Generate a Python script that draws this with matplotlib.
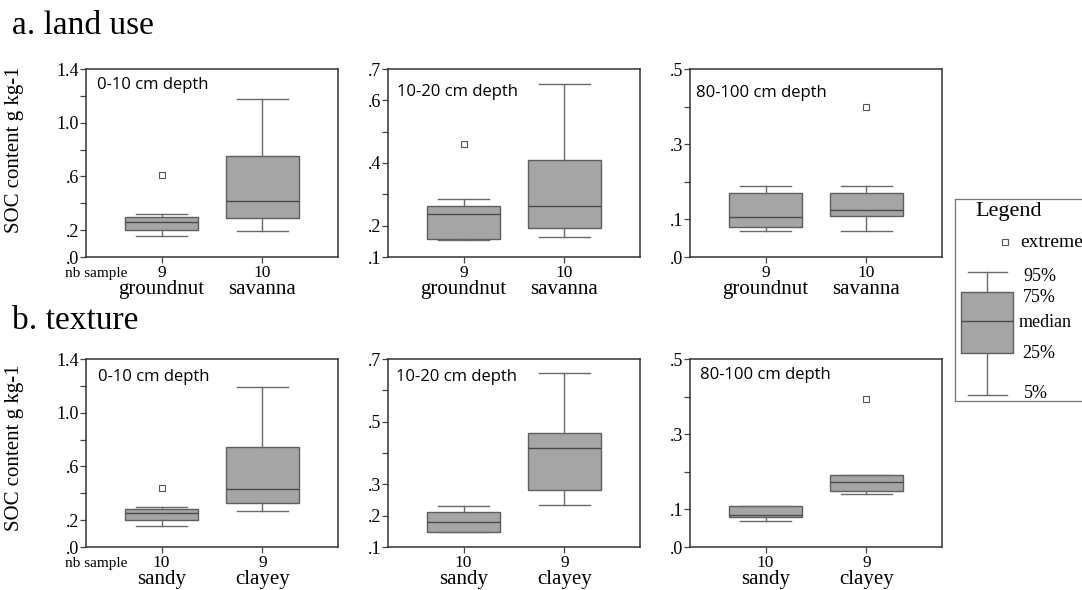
import matplotlib.pyplot as plt
from matplotlib.transforms import blended_transform_factory

plt.rcParams['font.family'] = ['Liberation Serif', 'DejaVu Serif']

depths = ['0-10 cm depth', '10-20 cm depth', '80-100 cm depth']
row_titles = ['a. land use', 'b. texture']
land_use = ['groundnut', 'savanna']
texture = ['sandy', 'clayey']
land_use_n = [9, 10]
texture_n = [10, 9]

# per depth: [5%, 25%, median, 75%, 95%]
groundnut_stats = [[0.157, 0.20, 0.258, 0.30, 0.317],
                   [0.155, 0.156, 0.236, 0.264, 0.284],
                   [0.068, 0.079, 0.107, 0.171, 0.189]]
savanna_stats = [[0.195, 0.289, 0.42, 0.749, 1.18],
                 [0.164, 0.192, 0.264, 0.411, 0.652],
                 [0.069, 0.110, 0.125, 0.171, 0.190]]
sandy_stats = [[0.155, 0.20, 0.255, 0.285, 0.30],
               [0.149, 0.149, 0.181, 0.213, 0.232],
               [0.068, 0.0795, 0.086, 0.110, 0.110]]
clayey_stats = [[0.27, 0.33, 0.435, 0.745, 1.19],
                [0.233, 0.282, 0.415, 0.463, 0.654],
                [0.142, 0.149, 0.172, 0.191, 0.191]]
groundnut_extremes = [[0.61], [0.46], []]
savanna_extremes = [[], [], [0.399]]
sandy_extremes = [[0.44], [], []]
clayey_extremes = [[], [], [0.394]]

ylims = [(0, 1.4), (0.1, 0.7), (0, 0.5)]
yticks = [[0, .2, .4, .6, .8, 1.0, 1.2, 1.4],
          [.1, .2, .3, .4, .5, .6, .7],
          [0, .1, .2, .3, .4, .5]]
ylabeled = [[[0, .2, .6, 1.0, 1.4], [.1, .2, .4, .6, .7], [0, .1, .3, .5]],
            [[0, .2, .6, 1.0, 1.4], [.1, .2, .3, .5, .7], [0, .1, .3, .5]]]
# depth label placement (axes fraction) per row / column
depth_pos = [[(0.044, 0.915), (0.036, 0.878), (0.024, 0.872)],
             [(0.048, 0.904), (0.032, 0.904), (0.040, 0.915)]]

box_fill = '#a5a5a5'
box_edge = '#5e5e5e'
line_col = '#6a6a6a'

W, H = 1082, 590
fig = plt.figure(figsize=(W / 100, H / 100), dpi=100)

col_left = [86, 388, 690]
row_top = [69, 359]
ax_w, ax_h = 252, 188


def draw_boxes(ax, stats, extremes, positions, widths, capw):
    bx = []
    for s, ext in zip(stats, extremes):
        bx.append(dict(whislo=s[0], q1=s[1], med=s[2], q3=s[3], whishi=s[4], fliers=ext))
    ax.bxp(bx, positions=positions, widths=widths, capwidths=capw,
           patch_artist=True, manage_ticks=False, showfliers=True,
           boxprops=dict(facecolor=box_fill, edgecolor=box_edge, linewidth=1.0),
           whiskerprops=dict(color=line_col, linewidth=1.0),
           capprops=dict(color=line_col, linewidth=1.0),
           medianprops=dict(color='#4a4a4a', linewidth=1.0),
           flierprops=dict(marker='s', markersize=4, markerfacecolor='white',
                           markeredgecolor='#555555', markeredgewidth=0.8))


def fmt(v):
    return f'{v:.1f}'.lstrip('0')


for r in range(2):
    cats = land_use if r == 0 else texture
    counts = land_use_n if r == 0 else texture_n
    first = groundnut_stats if r == 0 else sandy_stats
    second = savanna_stats if r == 0 else clayey_stats
    first_ext = groundnut_extremes if r == 0 else sandy_extremes
    second_ext = savanna_extremes if r == 0 else clayey_extremes
    for c in range(3):
        ax = fig.add_axes([col_left[c] / W, 1 - (row_top[r] + ax_h) / H, ax_w / W, ax_h / H])
        draw_boxes(ax, [first[c], second[c]], [first_ext[c], second_ext[c]],
                   [1, 2], 0.72, 0.5)
        ax.set_xlim(0.25, 2.75)
        ax.set_ylim(*ylims[c])
        ax.set_yticks(yticks[c])
        ax.set_yticklabels([fmt(v) if any(abs(v - l) < 1e-9 for l in ylabeled[r][c]) else ''
                            for v in yticks[c]], fontsize=13)
        ax.set_xticks([1, 2], [str(n) for n in counts], fontsize=12.5)
        ax.tick_params(axis='both', direction='out', length=4, width=0.9, color='#444444')
        ax.tick_params(axis='y', pad=1)
        ax.tick_params(axis='x', pad=1.5)
        for sp in ax.spines.values():
            sp.set_color('#333333')
            sp.set_linewidth(1.1)
        tr = blended_transform_factory(ax.transData, ax.transAxes)
        for p, name in zip([1, 2], cats):
            ax.text(p, -0.172, name, transform=tr, ha='center', va='center', fontsize=15)
        dx, dy = depth_pos[r][c]
        ax.text(dx, dy, depths[c], transform=ax.transAxes, ha='left', va='center',
                fontsize=12, family=['Open Sans', 'DejaVu Sans'])
        if c == 0:
            ax.text(0.04, -0.09, 'nb sample', transform=ax.transAxes, ha='center',
                    va='center', fontsize=11)

fig.text(12 / W, 1 - 34 / H, row_titles[0], fontsize=24, ha='left', va='baseline')
fig.text(12 / W, 1 - 329 / H, row_titles[1], fontsize=24, ha='left', va='baseline')
fig.text(15 / W, 1 - 150 / H, 'SOC content g kg-1', rotation=90, fontsize=15,
         ha='center', va='center')
fig.text(15 / W, 1 - 448 / H, 'SOC content g kg-1', rotation=90, fontsize=15,
         ha='center', va='center')

# legend key, drawn in pixel-like coordinates
key_stats = [dict(whislo=395, q1=353, med=321, q3=292, whishi=272, fliers=[])]
lg = fig.add_axes([955 / W, 1 - 401 / H, 140 / W, 202 / H])
lg.set_xlim(955, 1095)
lg.set_ylim(401, 199)
lg.bxp(key_stats, positions=[987], widths=52, capwidths=39, patch_artist=True,
       manage_ticks=False,
       boxprops=dict(facecolor=box_fill, edgecolor=box_edge, linewidth=1.0),
       whiskerprops=dict(color=line_col, linewidth=1.0),
       capprops=dict(color=line_col, linewidth=1.0),
       medianprops=dict(color='#4a4a4a', linewidth=1.0))
lg.plot([1005], [242], marker='s', markersize=4, markerfacecolor='white',
        markeredgecolor='#555555', markeredgewidth=0.8, linestyle='none')
lg.set_xticks([])
lg.set_yticks([])
for sp in lg.spines.values():
    sp.set_color('#777777')
    sp.set_linewidth(0.9)
lg.text(975, 211, 'Legend', fontsize=16, ha='left', va='center')
lg.text(1020, 242, 'extreme', fontsize=14, ha='left', va='center')
key_text = [('95%', 1023, 276), ('75%', 1023, 297), ('median', 1019, 322),
            ('25%', 1022, 353), ('5%', 1024, 393)]
for t, x, y in key_text:
    lg.text(x, y, t, fontsize=13, ha='left', va='center')

fig.savefig('out.png', dpi=100)
